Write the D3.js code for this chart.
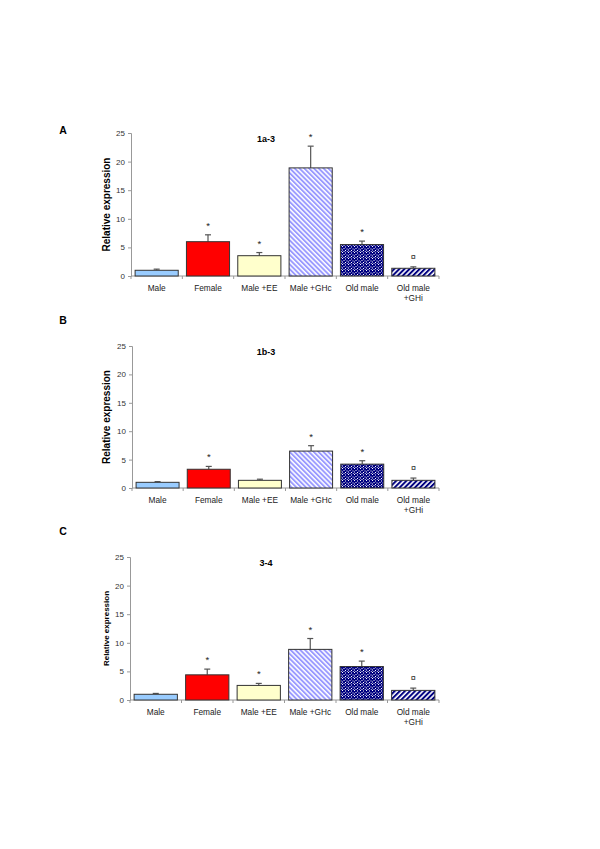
<!DOCTYPE html>
<html><head><meta charset="utf-8">
<script src="https://cdn.jsdelivr.net/npm/d3@7"></script>
<style>body{margin:0;background:#fff}svg{display:block}text{font-family:"Liberation Sans",Arial,sans-serif}</style>
</head><body>
<script>
const categories = ["Male","Female","Male +EE","Male +GHc","Old male","Old male\n+GHi"];
const yTicks = [0,5,10,15,20,25];

const titleA = "1a-3";
const valuesA = [1.0, 6.0, 3.55, 18.9, 5.5, 1.35];
const errorsA = [0.2, 1.2, 0.55, 3.8, 0.6, 0.25];
const marksA = ["", "*", "*", "*", "*", "¤"];

const titleB = "1b-3";
const valuesB = [1.0, 3.3, 1.35, 6.5, 4.2, 1.35];
const errorsB = [0.12, 0.5, 0.2, 0.95, 0.6, 0.4];
const marksB = ["", "*", "", "*", "*", "¤"];

const titleC = "3-4";
const valuesC = [1.0, 4.4, 2.55, 8.85, 5.85, 1.68];
const errorsC = [0.15, 1.0, 0.35, 1.9, 0.95, 0.4];
const marksC = ["", "*", "*", "*", "*", "¤"];

const fills = ["#99ccff","#ff0000","#ffffcc","url(#stripeLight)","url(#dots)","url(#stripeNavy)"];

const svg = d3.select("body").append("svg").attr("width",600).attr("height",849);
svg.append("rect").attr("width",600).attr("height",849).attr("fill","#fff");
const defs = svg.append("defs");

const p1 = defs.append("pattern").attr("id","stripeLight").attr("patternUnits","userSpaceOnUse")
  .attr("width",3.4).attr("height",3.4).attr("patternTransform","rotate(-45)");
p1.append("rect").attr("width",3.4).attr("height",3.4).attr("fill","#fff");
p1.append("rect").attr("width",1.9).attr("height",3.4).attr("fill","#9999ff");

const p2 = defs.append("pattern").attr("id","stripeNavy").attr("patternUnits","userSpaceOnUse")
  .attr("width",3.6).attr("height",3.6).attr("patternTransform","rotate(45)");
p2.append("rect").attr("width",3.6).attr("height",3.6).attr("fill","#fff");
p2.append("rect").attr("width",2.0).attr("height",3.6).attr("fill","#000080");

const p3 = defs.append("pattern").attr("id","dots").attr("patternUnits","userSpaceOnUse")
  .attr("width",6).attr("height",6);
p3.append("rect").attr("width",6).attr("height",6).attr("fill","#000080");
[[0,0],[3,0.5],[1.5,2],[4.5,2.5],[0,3.5],[3,4],[1.5,5],[4.8,5.2]].forEach(([x,y])=>{
  p3.append("rect").attr("x",x).attr("y",y).attr("width",1).attr("height",1).attr("fill","#fff");
});

const panels = [
  {letter:"A", title:titleA, values:valuesA, errors:errorsA, marks:marksA, y0:276, y25:133, ax:131, right:439, letterY:130, ylab:10},
  {letter:"B", title:titleB, values:valuesB, errors:errorsB, marks:marksB, y0:488, y25:346, ax:132, right:439, letterY:320, ylab:10},
  {letter:"C", title:titleC, values:valuesC, errors:errorsC, marks:marksC, y0:700, y25:557, ax:130, right:439, letterY:531, ylab:8},
];

panels.forEach(p => {
  const g = svg.append("g");
  const y = d3.scaleLinear().domain([0,25]).range([p.y0, p.y25]);
  const x = d3.scaleBand().domain(categories).range([p.ax, p.right]).paddingInner(0.16).paddingOuter(0.08);
  const step = x.step();

  g.append("text").attr("x",63).attr("y",p.letterY).attr("dy","0.35em").attr("text-anchor","middle")
    .attr("font-size",10.5).attr("font-weight","bold").attr("fill","#000").text(p.letter);

  const yAxis = d3.axisLeft(y).tickValues(yTicks).tickSize(3).tickPadding(3);
  const ya = g.append("g").attr("transform",`translate(${p.ax},0)`).call(yAxis);
  ya.select(".domain").attr("stroke","#999");
  ya.selectAll(".tick line").attr("stroke","#999");
  ya.selectAll(".tick text").attr("font-size",8).attr("fill","#333").style("font-family","Liberation Sans, Arial, sans-serif");

  g.append("line").attr("x1",p.ax).attr("x2",p.right).attr("y1",p.y0).attr("y2",p.y0).attr("stroke","#999");
  const bounds = d3.range(categories.length+1).map(i => x(categories[0]) - (step-x.bandwidth())/2 + i*step);
  g.selectAll(".xt").data(bounds).enter().append("line")
    .attr("x1",d=>d).attr("x2",d=>d).attr("y1",p.y0).attr("y2",p.y0+3).attr("stroke","#999");

  categories.forEach((c,i) => {
    const t = g.append("text").attr("x", x(c)+x.bandwidth()/2).attr("y", p.y0+15).attr("text-anchor","middle")
      .attr("font-size",8.3).attr("fill","#222");
    c.split("\n").forEach((line,j) => t.append("tspan").attr("x", x(c)+x.bandwidth()/2).attr("dy", j===0?0:10).text(line));
  });

  g.append("text").attr("x",266).attr("y",y(25)+6).attr("dy","0.35em").attr("text-anchor","middle")
    .attr("font-size",9).attr("font-weight","bold").attr("fill","#000").text(p.title);

  g.append("text").attr("transform",`translate(106,${(p.y0+p.y25)/2}) rotate(-90)`).attr("dy","0.35em")
    .attr("text-anchor","middle").attr("font-size",p.ylab).attr("font-weight","bold").attr("fill","#000")
    .text("Relative expression");

  categories.forEach((c,i) => {
    const cx = x(c)+x.bandwidth()/2;
    g.append("line").attr("x1",cx).attr("x2",cx).attr("y1",y(p.values[i])).attr("y2",y(p.values[i]+p.errors[i]))
      .attr("stroke","#555").attr("stroke-width",1.2);
    g.append("line").attr("x1",cx-3).attr("x2",cx+3).attr("y1",y(p.values[i]+p.errors[i])).attr("y2",y(p.values[i]+p.errors[i]))
      .attr("stroke","#555").attr("stroke-width",1.2);
  });

  g.selectAll(".bar").data(categories).enter().append("rect")
    .attr("x",c=>x(c)).attr("width",x.bandwidth())
    .attr("y",(c,i)=>y(p.values[i])).attr("height",(c,i)=>y(0)-y(p.values[i]))
    .attr("fill",(c,i)=>fills[i]).attr("stroke","#333").attr("stroke-width",1);

  categories.forEach((c,i) => {
    if (!p.marks[i]) return;
    const cx = x(c)+x.bandwidth()/2;
    const top = y(p.values[i]+p.errors[i]);
    if (p.marks[i] === "*") {
      g.append("text").attr("x",cx).attr("y",top-11+5).attr("text-anchor","middle")
        .attr("font-size",9.5).attr("fill","#222").text("*");
    } else {
      g.append("text").attr("x",cx).attr("y",top-10).attr("dy","0.35em").attr("text-anchor","middle")
        .attr("font-size",9).attr("fill","#222").text(p.marks[i]);
    }
  });
});
</script>
</body></html>
